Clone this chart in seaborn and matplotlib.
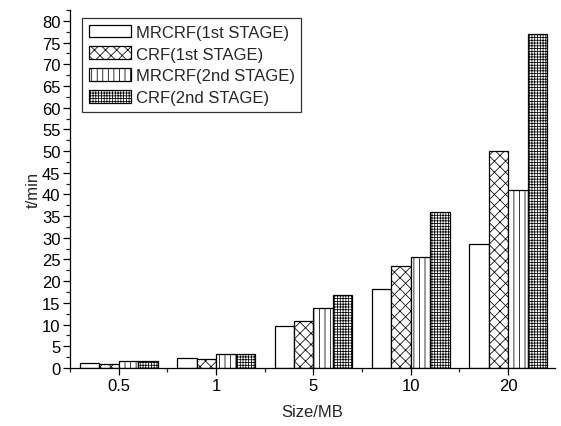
import pandas as pd
import matplotlib
matplotlib.use("Agg")
import matplotlib.pyplot as plt
import seaborn as sns
from matplotlib.ticker import MultipleLocator, FixedLocator

# data
sizes = ['0.5', '1', '5', '10', '20']
series = ['MRCRF(1st STAGE)', 'CRF(1st STAGE)', 'MRCRF(2nd STAGE)', 'CRF(2nd STAGE)']
mrcrf_1st = [1.1, 2.2, 9.7, 18.2, 28.5]
crf_1st = [0.9, 2.0, 10.8, 23.4, 50.0]
mrcrf_2nd = [1.7, 3.2, 13.9, 25.6, 41.1]
crf_2nd = [1.5, 3.2, 16.7, 36.0, 77.0]

hatches = ['', 'xxx', '|||', '++++++']

sns.set_style('ticks')
plt.rcParams['font.family'] = ['Liberation Sans', 'DejaVu Sans']
plt.rcParams['hatch.linewidth'] = 0.55
plt.rcParams['xtick.direction'] = 'out'
plt.rcParams['ytick.direction'] = 'out'

rows = []
for name, vals in zip(series, [mrcrf_1st, crf_1st, mrcrf_2nd, crf_2nd]):
    for s, v in zip(sizes, vals):
        rows.append({'Size': s, 'Time': v, 'Series': name})
df = pd.DataFrame(rows)

fig = plt.figure(figsize=(5.61, 4.27), dpi=100)
ax = fig.add_axes([0.125, 0.136, 0.864, 0.838])

sns.barplot(data=df, x='Size', y='Time', hue='Series', order=sizes, hue_order=series,
            palette=['white'] * 4, edgecolor='black', linewidth=0.9, width=0.8,
            saturation=1, ax=ax, legend=False)

for cont, h in zip(ax.containers, hatches):
    for p in cont.patches:
        p.set_hatch(h)

ax.set_ylim(0, 82.5)
ax.set_xlim(-0.5, 4.48)
ax.yaxis.set_major_locator(MultipleLocator(5))
ax.yaxis.set_minor_locator(MultipleLocator(2.5))
ax.xaxis.set_minor_locator(FixedLocator([-0.5, 0.5, 1.5, 2.5, 3.5]))
ax.tick_params(axis='both', which='major', length=5, width=0.9, labelsize=12,
               colors='black', pad=2)
ax.tick_params(axis='both', which='minor', length=3, width=0.9)
ax.set_xlabel('Size/MB', fontsize=12, labelpad=8)
ax.set_ylabel('t/min', fontsize=12, labelpad=1)
for sp in ['top', 'right']:
    ax.spines[sp].set_visible(False)
for sp in ['left', 'bottom']:
    ax.spines[sp].set_color('black')
    ax.spines[sp].set_linewidth(0.9)

leg = ax.legend(ax.containers, series, loc='upper left', bbox_to_anchor=(0.025, 0.978),
                borderaxespad=0, fontsize=12, handlelength=2.5, handleheight=0.8,
                labelspacing=0.4, handletextpad=0.3, borderpad=0.4,
                fancybox=False, frameon=True)
leg.get_frame().set_edgecolor('black')
leg.get_frame().set_linewidth(0.9)

fig.savefig('out.png', dpi=100)
